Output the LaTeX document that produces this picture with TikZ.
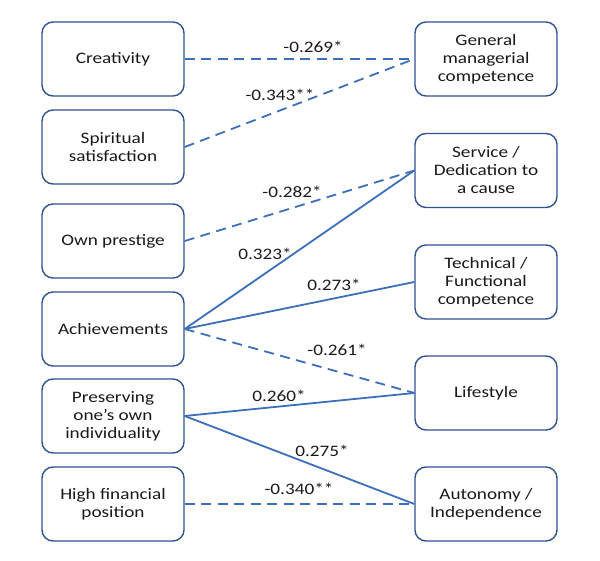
\documentclass[tikz,border=0pt]{standalone}
\usepackage{fontspec}
\setmainfont{Carlito}[FakeStretch=1.2,Ligatures=ResetAll]
\begin{document}
\begin{tikzpicture}[x=1pt,y=-1pt,
  box/.style={draw=boxc,line width=1.4pt,rounded corners=11pt,minimum width=142pt,minimum height=74pt,align=center,inner sep=2pt,font=\fontsize{16}{18}\selectfont,text=txt},
  link/.style={draw=linec,line width=1.8pt},
  neg/.style={link,dash pattern=on 10pt off 6.5pt},
  lab/.style={font=\fontsize{16}{18}\selectfont,text=txt,inner sep=0pt}]
\definecolor{boxc}{RGB}{47,82,143}
\definecolor{linec}{RGB}{61,110,185}
\definecolor{txt}{RGB}{25,25,25}
\useasboundingbox (0,0) rectangle (600,561);
\node[box] (cre) at (113,59) {Creativity};
\node[box] (spi) at (113,147) {Spiritual\\satisfaction};
\node[box] (own) at (113,241) {Own prestige};
\node[box] (ach) at (113,329) {Achievements};
\node[box] (pre) at (113,416) {Preserving\\one's own\\individuality};
\node[box] (hig) at (113,504) {High financial\\position};
\node[box] (gen) at (486,59) {General\\managerial\\competence};
\node[box] (ser) at (486,170.5) {Service /\\Dedication to\\a cause};
\node[box] (tec) at (486,282) {Technical /\\Functional\\competence};
\node[box] (lif) at (486,393) {Lifestyle};
\node[box] (aut) at (486,504) {Autonomy /\\Independence};
\draw[neg] (cre.east) -- (gen.west);
\draw[neg] (spi.east) -- (gen.west);
\draw[neg] (own.east) -- (ser.west);
\draw[link] (ach.east) -- (ser.west);
\draw[link] (ach.east) -- (tec.west);
\draw[neg] (ach.east) -- (lif.west);
\draw[link] (pre.east) -- (lif.west);
\draw[link] (pre.east) -- (aut.west);
\draw[neg] (hig.east) -- (aut.west);
\node[lab] (l1) at (313,47) {-0.269*};
\node[lab] (l2) at (280,95) {-0.343**};
\node[lab] (l3) at (292,192) {-0.282*};
\node[lab] (l4) at (265,254) {0.323*};
\node[lab] (l5) at (334,285) {0.273*};
\node[lab] (l6) at (337,350) {-0.261*};
\node[lab] (l7) at (279,396) {0.260*};
\node[lab] (l8) at (322,451) {0.275*};
\node[lab] (l9) at (299,489) {-0.340**};
\end{tikzpicture}
\end{document}
